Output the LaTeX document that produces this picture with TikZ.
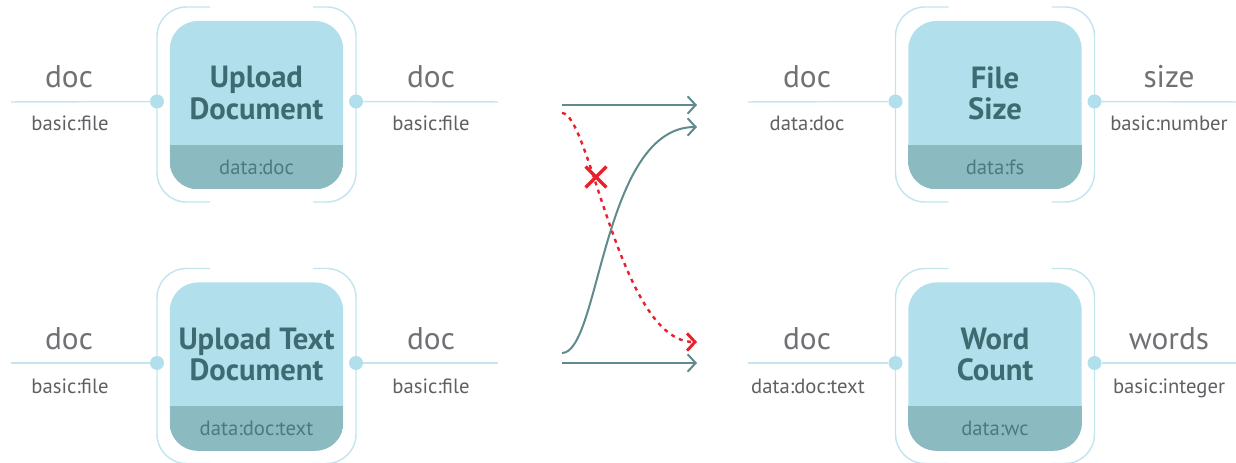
\documentclass[tikz,border=0pt]{standalone}
\usepackage{fontspec}
\setmainfont{PT Sans}
\usetikzlibrary{arrows.meta,shapes.misc}
\definecolor{boxfill}{HTML}{B1DFEB}
\definecolor{bandfill}{HTML}{8BBAC1}
\definecolor{titlecol}{HTML}{3E6B71}
\definecolor{bandtext}{HTML}{4D7A80}
\definecolor{labelcol}{HTML}{707174}
\definecolor{wirecol}{HTML}{C3E5EF}
\definecolor{dotcol}{HTML}{B1DFEB}
\definecolor{arrowcol}{HTML}{5F8A8E}
\definecolor{redcol}{HTML}{E8212C}
\tikzset{
  box/.style={rectangle, rounded corners=21pt, fill=boxfill, minimum width=130pt, minimum height=126pt, inner sep=0pt},
  bracket/.style={draw=wirecol, line width=1.1pt, rounded corners=22pt},
  wire/.style={draw=wirecol, line width=1.1pt},
  port/.style={circle, fill=dotcol, minimum size=10.5pt, inner sep=0pt},
  title/.style={font=\fontsize{23}{23.5}\selectfont\bfseries, text=titlecol, align=center, inner sep=0pt},
  bandlbl/.style={font=\fontsize{15.5}{18}\selectfont, text=bandtext, inner sep=0pt},
  pname/.style={font=\fontsize{23.5}{26}\selectfont, text=labelcol, anchor=base, inner sep=0pt},
  ptype/.style={font=\fontsize{15.5}{18}\selectfont, text=labelcol!85!black, anchor=base, inner sep=0pt},
  flow/.style={draw=arrowcol, line width=1.5pt, -{Straight Barb[length=6pt,width=13pt,line width=1.5pt]}},
  bad/.style={draw=redcol, line width=1.8pt, dash pattern=on 3pt off 3.5pt, -{Straight Barb[length=6pt,width=13pt,line width=2.2pt]}},
  badmark/.style={cross out, draw=redcol, line width=2.6pt, minimum size=13pt, inner sep=0pt},
}
\newcommand\mblock[5]{%
  \node[box] (#1) at (#2,#3) {};
  \begin{scope}
    \clip[rounded corners=21pt] (#1.south west) rectangle (#1.north east);
    \fill[bandfill] (#1.south west) rectangle ([yshift=-30pt]#1.east);
  \end{scope}
  \node[title] (#1-t) at ([yshift=9pt]#1.center) {#4};
  \node[bandlbl] (#1-b) at ([yshift=-46.5pt]#1.center) {#5};
  \draw[bracket] ([shift={(-46.5,-98)}]#1.center) -| ([shift={(-99.5,97)}]#1.center) -- ([shift={(-46.5,97)}]#1.center);
  \draw[bracket] ([shift={(56.5,-98)}]#1.center) -| ([shift={(99.5,97)}]#1.center) -- ([shift={(56.5,97)}]#1.center);
  \node[port] (#1-in) at ([shift={(-99.5,-3.5)}]#1.center) {};
  \node[port] (#1-out) at ([shift={(99.5,-3.5)}]#1.center) {};
}
\begin{document}
\begin{tikzpicture}[x=0.75pt,y=-0.75pt]
\useasboundingbox (0,0) rectangle (1236,463);

% blocks
\mblock{ud}{256.5}{105}{Upload\\Document}{data:doc}
\mblock{utd}{256.5}{366.5}{Upload Text\\Document}{data:doc:text}
\mblock{fs}{995}{105}{File\\Size}{data:fs}
\mblock{wc}{995}{366.5}{Word\\Count}{data:wc}

% wire free ends
\coordinate (ud-l) at (11,102);
\coordinate (ud-r) at (498,102);
\coordinate (utd-l) at (11,363);
\coordinate (utd-r) at (498,363);
\coordinate (fs-l) at (748,102);
\coordinate (fs-r) at (1236,102);
\coordinate (wc-l) at (748,363);
\coordinate (wc-r) at (1236,363);

\draw[wire] (ud-l) -- (ud-in);
\draw[wire] (ud-out) -- (ud-r);
\draw[wire] (utd-l) -- (utd-in);
\draw[wire] (utd-out) -- (utd-r);
\draw[wire] (fs-l) -- (fs-in);
\draw[wire] (fs-out) -- (fs-r);
\draw[wire] (wc-l) -- (wc-in);
\draw[wire] (wc-out) -- (wc-r);

% port labels
\node[pname] (ud-n1) at (69,88) {doc};
\node[ptype] (ud-t1) at (70,131) {basic:file};
\node[pname] (ud-n2) at (431,88) {doc};
\node[ptype] (ud-t2) at (431,131) {basic:file};

\node[pname] (utd-n1) at (69,350) {doc};
\node[ptype] (utd-t1) at (70,393) {basic:file};
\node[pname] (utd-n2) at (431,350) {doc};
\node[ptype] (utd-t2) at (431,393) {basic:file};

\node[pname] (fs-n1) at (807,88) {doc};
\node[ptype] (fs-t1) at (807,131) {data:doc};
\node[pname] (fs-n2) at (1169,88) {size};
\node[ptype] (fs-t2) at (1169,131) {basic:number};

\node[pname] (wc-n1) at (807,350) {doc};
\node[ptype] (wc-t1) at (808,393) {data:doc:text};
\node[pname] (wc-n2) at (1169,350) {words};
\node[ptype] (wc-t2) at (1169,393) {basic:integer};

% middle connections
\coordinate (m1s) at (562,105);
\coordinate (m1e) at (697,105);
\coordinate (m2s) at (562,353);
\coordinate (m2e) at (697,127);
\coordinate (m3s) at (562,363);
\coordinate (m3e) at (697,363);
\coordinate (m4s) at (562,113);
\coordinate (m4e) at (697,342);

\draw[flow] (m1s) -- (m1e);
\draw[flow] (m2s) .. controls (600,353) and (602,127) .. (m2e);
\draw[flow] (m3s) -- (m3e);
\draw[bad] (m4s) .. controls (590,113) and (620,342) .. (m4e);
\node[badmark] (x) at (596,177) {};
\end{tikzpicture}
\end{document}
